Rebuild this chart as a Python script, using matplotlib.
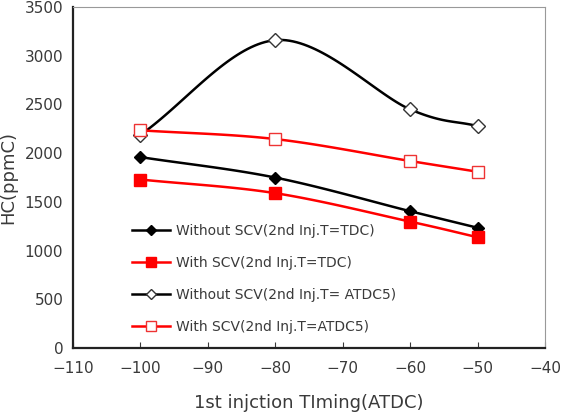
import numpy as np
import matplotlib
matplotlib.use("Agg")
import matplotlib.pyplot as plt
from matplotlib.lines import Line2D

x_timing = [-100, -80, -60, -50]
without_tdc = [1960, 1750, 1405, 1235]
with_tdc = [1730, 1590, 1298, 1138]
without_atdc5 = [2188, 3160, 2450, 2278]
with_atdc5 = [2235, 2145, 1920, 1810]

labels = ["Without SCV(2nd Inj.T=TDC)", "With SCV(2nd Inj.T=TDC)",
          "Without SCV(2nd Inj.T= ATDC5)", "With SCV(2nd Inj.T=ATDC5)"]

def smooth(xs, ys, n=40):
    xs = np.asarray(xs, float); ys = np.asarray(ys, float)
    px = np.concatenate([[2*xs[0]-xs[1]], xs, [2*xs[-1]-xs[-2]]])
    py = np.concatenate([[2*ys[0]-ys[1]], ys, [2*ys[-1]-ys[-2]]])
    ox, oy = [], []
    for i in range(1, len(px)-2):
        p0, p1, p2, p3 = (np.array([px[j], py[j]]) for j in range(i-1, i+3))
        c1 = p1 + (p2 - p0) / 6.0
        c2 = p2 - (p3 - p1) / 6.0
        t = np.linspace(0, 1, n)[:, None]
        b = (1-t)**3*p1 + 3*(1-t)**2*t*c1 + 3*(1-t)*t**2*c2 + t**3*p2
        ox.extend(b[:, 0]); oy.extend(b[:, 1])
    return ox, oy

fig = plt.figure(figsize=(5.63, 4.12), dpi=100)
ax = fig.add_axes([0.1297, 0.155, 0.8383, 0.828])

tc = "#3a3a3a"
series = [
    (without_tdc, "black", dict(marker="D", ms=6, mfc="black", mec="black")),
    (with_tdc, "#ff0000", dict(marker="s", ms=9, mfc="#ff0000", mec="#ff0000")),
    (without_atdc5, "black", dict(marker="D", ms=7, mfc="white", mec="#333333", mew=1.0)),
    (with_atdc5, "#ff0000", dict(marker="s", ms=9, mfc="white", mec="#ee3333", mew=1.0)),
]
handles = []
for (ys, col, mk), lab in zip(series, labels):
    sx, sy = smooth(x_timing, ys)
    ax.plot(sx, sy, color=col, lw=1.8, zorder=2)
    ax.plot(x_timing, ys, ls="none", zorder=3, **mk)
    hmk = dict(mk)
    hmk["ms"] = mk["ms"] * 0.8
    handles.append(Line2D([], [], color=col, lw=1.8, **hmk))

ax.set_xlim(-110, -40)
ax.set_ylim(0, 3500)
ax.set_xticks(range(-110, -39, 10))
ax.set_yticks(range(0, 3501, 500))
ax.tick_params(axis="both", direction="in", length=4, labelsize=11, colors=tc)
ax.tick_params(axis="y", length=0, pad=7)
ax.tick_params(axis="x", pad=9)
for s in ["left", "bottom"]:
    ax.spines[s].set_linewidth(1.6)
    ax.spines[s].set_color("#222222")
for s in ["top", "right"]:
    ax.spines[s].set_linewidth(0.8)
    ax.spines[s].set_color("#999999")

ax.set_xlabel("1st injction TIming(ATDC)", fontsize=13, color=tc, labelpad=13)
ax.set_ylabel("HC(ppmC)", fontsize=13, color=tc, labelpad=5)

leg = ax.legend(handles, labels, loc="upper left", bbox_to_anchor=(0.125, 0.365),
                frameon=False, fontsize=10, labelspacing=1.3, handlelength=2.7,
                handletextpad=0.5, borderaxespad=0, borderpad=0)
for t in leg.get_texts():
    t.set_color(tc)

fig.savefig("out.png", dpi=100)
